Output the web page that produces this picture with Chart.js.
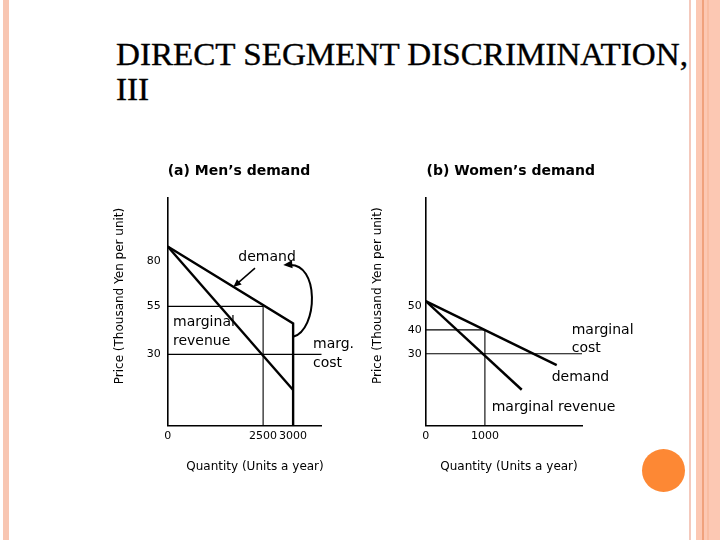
<!DOCTYPE html>
<html><head><meta charset="utf-8">
<script src="https://cdn.jsdelivr.net/npm/chart.js@4/dist/chart.umd.min.js"></script>
<style>
html,body{margin:0;padding:0;background:#fff;}
body{width:720px;height:540px;position:relative;overflow:hidden;}
.deco{position:absolute;top:0;height:540px;}
#title{position:absolute;left:116px;top:36.7px;font-family:'Liberation Serif','Times New Roman',serif;font-size:32px;line-height:35px;color:#000;transform-origin:0 0;transform:scaleX(1.035);white-space:nowrap;-webkit-text-stroke:0.35px #000;}
canvas{position:absolute;}
</style></head><body>
<div class="deco" style="left:3px;width:6px;background:#f8c6b2"></div>
<div class="deco" style="left:689px;width:2px;background:#f4c9bc"></div>
<div class="deco" style="left:696px;width:24px;background:#fcc8b3"></div>
<div class="deco" style="left:702px;width:2px;background:#f0a27d"></div>
<div class="deco" style="left:707px;width:2px;background:#f9bda2"></div>
<div style="position:absolute;left:641.6px;top:449px;width:43.4px;height:43.4px;border-radius:50%;background:#fd8834"></div>
<div id="title">DIRECT SEGMENT DISCRIMINATION,<br>III</div>
<canvas id="men" width="270" height="335" style="left:90px;top:150px"></canvas>
<canvas id="women" width="290" height="335" style="left:355px;top:150px"></canvas>
<script>
// ---------- (a) Men's demand ----------
const menQtyTicks = [0, 2500, 3000];
const menPriceTicks = [30, 55, 80];
const menDemandQty = [0, 3000, 3000];
const menDemandPrice = [88.7, 45.9, 0];
const menMRQty = [0, 3000];
const menMRPrice = [88.7, 13.3];
const menMCQty = [0, 3440];
const menMCPrice = [30, 30];
const menOptQty = [0, 2500, 2500];
const menOptPrice = [55, 55, 0];
const menLabels = ['demand', 'marginal', 'revenue', 'marg.', 'cost'];
const menLabelQty = [2045, 364, 364, 3309, 3309];
const menLabelPrice = [82.6, 46.6, 36.7, 35.2, 25.8];
const menArrowQty = [2356, 1947];
const menArrowPrice = [76.3, 65.6];
const menCurveQty = [3000, 3385, 3415, 2841];
const menCurvePrice = [38.9, 42.4, 79.8, 78.1];

// ---------- (b) Women's demand ----------
const womenQtyTicks = [0, 1000];
const womenPriceTicks = [30, 40, 50];
const womenDemandQty = [0, 2213];
const womenDemandPrice = [52, 25.3];
const womenMRQty = [0, 1622];
const womenMRPrice = [52, 15];
const womenMCQty = [0, 2640];
const womenMCPrice = [30, 30];
const womenOptQty = [0, 1000, 1000];
const womenOptPrice = [40, 40, 0];
const womenLabels = ['marginal', 'cost', 'demand', 'marginal revenue'];
const womenLabelQty = [2466, 2466, 2128, 1115];
const womenLabelPrice = [39.9, 32.4, 20.0, 7.8];

const FONT = "'DejaVu Sans', Verdana, sans-serif";

// Power scale: the figure's men axes are drawn not-to-scale
const LinearScale = Chart.registry.getScale('linear');
class PowerScale extends LinearScale {
  getPixelForValue(value) {
    if (value === null || value === undefined || isNaN(value)) return NaN;
    const p = this.options.exponent || 1;
    const t = (value - this._startValue) / this._valueRange;
    return this.getPixelForDecimal(t <= 0 ? t : Math.pow(t, p));
  }
  getValueForPixel(pixel) {
    const p = this.options.exponent || 1;
    const d = this.getDecimalForPixel(pixel);
    return this._startValue + (d <= 0 ? d : Math.pow(d, 1 / p)) * this._valueRange;
  }
}
PowerScale.id = 'power';
PowerScale.defaults = {};
Chart.register(PowerScale);

const pts = (xs, ys) => xs.map((x, i) => ({x, y: ys[i]}));
const line = (xs, ys, w) => ({data: pts(xs, ys), borderColor: '#000', backgroundColor: '#000',
  borderWidth: w, pointRadius: 0, showLine: true, fill: false, tension: 0});

function head(ctx, x, y, ang, len, half) {
  ctx.beginPath();
  ctx.moveTo(x, y);
  ctx.lineTo(x - len * Math.cos(ang) + half * Math.sin(ang), y - len * Math.sin(ang) - half * Math.cos(ang));
  ctx.lineTo(x - len * Math.cos(ang) - half * Math.sin(ang), y - len * Math.sin(ang) + half * Math.cos(ang));
  ctx.closePath();
  ctx.fill();
}

function annotator(a) {
  return {
    id: 'annotate',
    afterDraw(chart) {
      const ctx = chart.ctx, xs = chart.scales.x, ys = chart.scales.y;
      const px = v => xs.getPixelForValue(v), py = v => ys.getPixelForValue(v);
      ctx.save();
      ctx.fillStyle = '#000'; ctx.strokeStyle = '#000';
      a.texts.forEach(t => {
        ctx.save();
        ctx.font = t.font; ctx.textAlign = 'center'; ctx.textBaseline = 'middle';
        ctx.translate(t.x, t.y);
        if (t.rotate) ctx.rotate(t.rotate);
        ctx.fillText(t.text, 0, 0);
        ctx.restore();
      });
      ctx.font = '14px ' + FONT; ctx.textAlign = 'left'; ctx.textBaseline = 'middle';
      a.labels.forEach((s, i) => ctx.fillText(s, px(a.labelX[i]), py(a.labelY[i])));
      if (a.arrowX) {
        const x0 = px(a.arrowX[0]), y0 = py(a.arrowY[0]), x1 = px(a.arrowX[1]), y1 = py(a.arrowY[1]);
        const ang = Math.atan2(y1 - y0, x1 - x0);
        ctx.lineWidth = 1.5;
        ctx.beginPath(); ctx.moveTo(x0, y0);
        ctx.lineTo(x1 - 6 * Math.cos(ang), y1 - 6 * Math.sin(ang)); ctx.stroke();
        head(ctx, x1, y1, ang, 8, 3.5);
      }
      if (a.curveX) {
        const c = a.curveX.map((v, i) => [px(v), py(a.curveY[i])]);
        ctx.lineWidth = 2;
        ctx.beginPath(); ctx.moveTo(c[0][0], c[0][1]);
        ctx.bezierCurveTo(c[1][0], c[1][1], c[2][0], c[2][1], c[3][0] + 5, c[3][1] + 0.3);
        ctx.stroke();
        const ang = Math.atan2(c[3][1] - c[2][1], c[3][0] - c[2][0]);
        head(ctx, c[3][0], c[3][1], ang, 9, 4);
      }
      ctx.restore();
    }
  };
}

function makeChart(id, c) {
  const tickFont = {family: FONT, size: 11};
  return new Chart(document.getElementById(id), {
    type: 'scatter',
    data: {datasets: c.datasets},
    options: {
      responsive: false, animation: false, events: [],
      layout: {padding: {left: 0, top: 48, right: c.padRight, bottom: 0}},
      plugins: {legend: {display: false}, tooltip: {enabled: false}, title: {display: false}},
      scales: {
        x: {type: c.xType, exponent: c.xExp, min: 0, max: c.xMax, bounds: 'data',
          grid: {display: false, drawTicks: false},
          border: {display: true, color: '#000', width: 1.6},
          ticks: {autoSkip: false, maxRotation: 0, padding: 4, color: '#000', font: tickFont, callback: v => String(v)},
          afterBuildTicks: s => { s.ticks = c.xTicks.map(v => ({value: v})); },
          afterFit: s => { s.height = 59.3; }},
        y: {type: c.yType, exponent: c.yExp, min: 0, max: c.yMax, bounds: 'data',
          grid: {display: false, drawTicks: false},
          border: {display: true, color: '#000', width: 1.6},
          ticks: {autoSkip: false, padding: c.yPad, color: '#000', font: tickFont, callback: v => String(v)},
          afterBuildTicks: s => { s.ticks = c.yTicks.map(v => ({value: v})); },
          afterFit: s => { s.width = c.yWidth; }}
      }
    },
    plugins: [annotator(c.annot)]
  });
}

makeChart('men', {
  xType: 'power', xExp: 1.5, xMax: 3440, xTicks: menQtyTicks,
  yType: 'power', yExp: 0.85, yMax: 117.6, yTicks: menPriceTicks,
  padRight: 38.3, yWidth: 77.7, yPad: 7,
  datasets: [
    line(menOptQty, menOptPrice, 1.1),
    line(menMCQty, menMCPrice, 1.1),
    line(menMRQty, menMRPrice, 2.4),
    line(menDemandQty, menDemandPrice, 2.4)
  ],
  annot: {
    texts: [
      {text: '(a) Men\u2019s demand', x: 149, y: 21, font: 'bold 14px ' + FONT},
      {text: 'Price (Thousand Yen per unit)', x: 30, y: 146, rotate: -Math.PI / 2, font: '12px ' + FONT},
      {text: 'Quantity (Units a year)', x: 165, y: 317, font: '12px ' + FONT}
    ],
    labels: menLabels, labelX: menLabelQty, labelY: menLabelPrice,
    arrowX: menArrowQty, arrowY: menArrowPrice,
    curveX: menCurveQty, curveY: menCurvePrice
  }
});

makeChart('women', {
  xType: 'linear', xMax: 2640, xTicks: womenQtyTicks,
  yType: 'linear', yMax: 95, yTicks: womenPriceTicks,
  padRight: 63, yWidth: 70.7, yPad: 4,
  datasets: [
    line(womenOptQty, womenOptPrice, 1.1),
    line(womenMCQty, womenMCPrice, 1.1),
    line(womenMRQty, womenMRPrice, 2.4),
    line(womenDemandQty, womenDemandPrice, 2.4)
  ],
  annot: {
    texts: [
      {text: '(b) Women\u2019s demand', x: 155.8, y: 21, font: 'bold 14px ' + FONT},
      {text: 'Price (Thousand Yen per unit)', x: 23, y: 145.7, rotate: -Math.PI / 2, font: '12px ' + FONT},
      {text: 'Quantity (Units a year)', x: 154, y: 317, font: '12px ' + FONT}
    ],
    labels: womenLabels, labelX: womenLabelQty, labelY: womenLabelPrice
  }
});
</script>
</body></html>
